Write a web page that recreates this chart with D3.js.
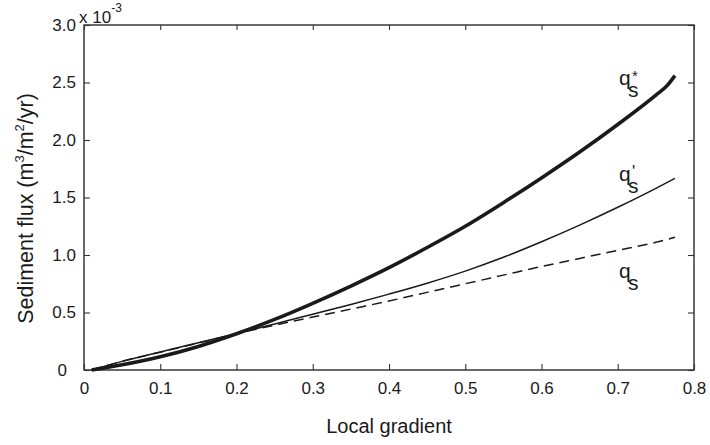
<!DOCTYPE html>
<html><head><meta charset="utf-8">
<script src="https://cdn.jsdelivr.net/npm/d3@7"></script>
<style>
body{margin:0;background:#fff;}
svg{display:block;font-family:"Liberation Sans",Arial,Helvetica,sans-serif;}
</style></head>
<body>
<svg id="chart" width="710" height="445"></svg>
<script>
// Data (flux values in units of 1e-3 m^3/m^2/yr)
const gradient = [0.01, 0.05, 0.1, 0.15, 0.2, 0.25, 0.3, 0.35, 0.4, 0.45, 0.5, 0.55, 0.6, 0.65, 0.7, 0.75, 0.765, 0.775];
const qsStar   = [0.0, 0.045, 0.115, 0.205, 0.315, 0.44, 0.58, 0.73, 0.89, 1.065, 1.25, 1.455, 1.67, 1.895, 2.135, 2.39, 2.475, 2.56];
const qsPrime  = [0.0, 0.075, 0.157, 0.237, 0.318, 0.4, 0.485, 0.57, 0.66, 0.755, 0.86, 0.98, 1.115, 1.26, 1.415, 1.58, 1.632, 1.667];
const qs       = [0.0, 0.075, 0.155, 0.235, 0.315, 0.39, 0.46, 0.53, 0.6, 0.675, 0.75, 0.825, 0.9, 0.97, 1.04, 1.11, 1.135, 1.155];
const xTicks = [0, 0.1, 0.2, 0.3, 0.4, 0.5, 0.6, 0.7, 0.8];
const xTickLabels = ["0", "0.1", "0.2", "0.3", "0.4", "0.5", "0.6", "0.7", "0.8"];
const yTicks = [0, 0.5, 1.0, 1.5, 2.0, 2.5, 3.0];
const yTickLabels = ["0", "0.5", "1.0", "1.5", "2.0", "2.5", "3.0"];

const svg = d3.select("#chart");
const L = 84, R = 694, T = 25, B = 370;
const x = d3.scaleLinear().domain([0, 0.8]).range([L, R]);
const y = d3.scaleLinear().domain([0, 3.0]).range([B, T]);
const ink = "#1a1a1a";

// Frame
svg.append("rect").attr("x", L).attr("y", T).attr("width", R - L).attr("height", B - T)
  .attr("fill", "none").attr("stroke", ink).attr("stroke-width", 1.3);

function styleAxis(g) {
  g.select(".domain").remove();
  g.selectAll(".tick line").attr("stroke", "#333").attr("stroke-width", 1.1);
  g.selectAll(".tick text").attr("fill", ink).attr("font-size", 17).attr("font-family", "Liberation Sans, Arial, sans-serif");
}

svg.append("g").attr("transform", `translate(0,${B})`)
  .call(d3.axisBottom(x).tickValues(xTicks).tickSize(-6).tickPadding(12)
    .tickFormat((d, i) => xTickLabels[i]))
  .call(styleAxis);
svg.append("g").attr("transform", `translate(0,${T})`)
  .call(d3.axisTop(x).tickValues(xTicks).tickSize(-5).tickFormat(""))
  .call(styleAxis);
const yAx = svg.append("g").attr("transform", `translate(${L},0)`)
  .call(d3.axisLeft(y).tickValues(yTicks).tickSize(-6).tickPadding(8)
    .tickFormat((d, i) => yTickLabels[i]))
  .call(styleAxis);
yAx.selectAll(".tick text").filter(d => d === 0).attr("x", -17);
svg.append("g").attr("transform", `translate(${R},0)`)
  .call(d3.axisRight(y).tickValues(yTicks).tickSize(-6).tickFormat(""))
  .call(styleAxis);

// Exponent label
const ex = svg.append("text").attr("x", 79).attr("y", 23).attr("fill", ink).attr("font-size", 17);
ex.append("tspan").text("x 10");
ex.append("tspan").attr("font-size", 12).attr("dy", -11).text("-3");

// Lines
const line = d3.line().x(d => x(d[0])).y(d => y(d[1])).curve(d3.curveMonotoneX);
const series = [
  {vals: qs, w: 1.5, dash: "10,6"},
  {vals: qsPrime, w: 1.5, dash: null},
  {vals: qsStar, w: 3.6, dash: null}
];
series.forEach(s => {
  svg.append("path").datum(gradient.map((g, i) => [g, s.vals[i]]))
    .attr("d", line).attr("fill", "none").attr("stroke", ink)
    .attr("stroke-width", s.w).attr("stroke-dasharray", s.dash)
    .attr("stroke-linejoin", "round");
});

// Curve labels (single text element each)
function qLabel(xq, yq, mark) {
  const t = svg.append("text").attr("x", xq).attr("y", yq).attr("fill", ink).attr("font-size", 21);
  t.append("tspan").text("q");
  if (mark) {
    t.append("tspan").attr("x", xq + 13).attr("dy", -4)
      .attr("font-size", mark === "*" ? 15 : 17).text(mark);
    t.append("tspan").attr("x", xq + 9).attr("dy", 16).text("s");
  } else {
    t.append("tspan").attr("x", xq + 9).attr("dy", 12).text("s");
  }
}
qLabel(619, 85, "*");
qLabel(619, 181, "'");
qLabel(619, 278, null);

// Axis titles
svg.append("text").attr("x", (L + R) / 2).attr("y", 433).attr("text-anchor", "middle")
  .attr("fill", ink).attr("font-size", 20).text("Local gradient");
const yl = svg.append("text").attr("transform", `translate(33,${(T + B) / 2 + 11}) rotate(-90)`)
  .attr("text-anchor", "middle").attr("fill", ink).attr("font-size", 21.5);
yl.append("tspan").text("Sediment flux (m");
yl.append("tspan").attr("font-size", 13).attr("dy", -9).text("3");
yl.append("tspan").attr("dy", 9).text("/m");
yl.append("tspan").attr("font-size", 13).attr("dy", -9).text("2");
yl.append("tspan").attr("dy", 9).text("/yr)");
</script>
</body></html>
